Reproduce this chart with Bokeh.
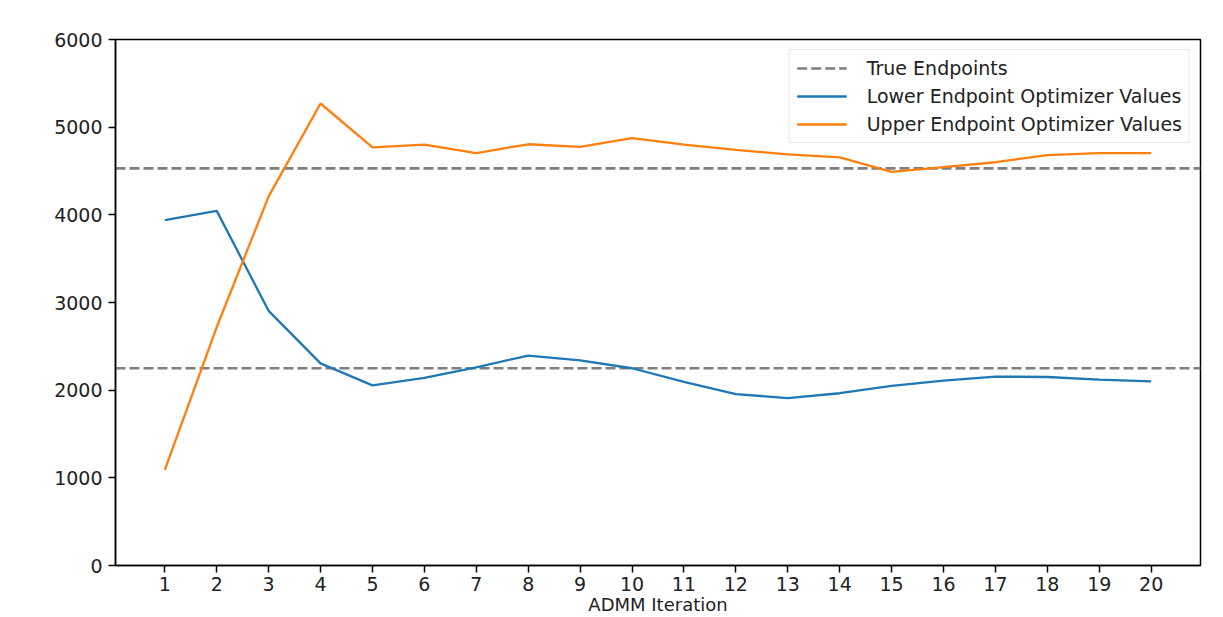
from bokeh.plotting import figure
from bokeh.models import Range1d, FixedTicker, Legend, LegendItem
from bokeh.embed import file_html
from bokeh.resources import INLINE

iterations = list(range(1, 21))
lower_values = [3940, 4045, 2905, 2305, 2055, 2140, 2260, 2395, 2340, 2250,
                2095, 1955, 1910, 1965, 2050, 2110, 2155, 2150, 2120, 2100]
upper_values = [1090, 2720, 4210, 5270, 4770, 4800, 4705, 4805, 4775, 4875,
                4800, 4740, 4690, 4655, 4490, 4545, 4600, 4680, 4705, 4705]
true_endpoints = [2250, 4530]
x_range = (0.05, 20.95)
y_range = (0, 6000)
y_ticks = [0, 1000, 2000, 3000, 4000, 5000, 6000]

FONT = "DejaVu Sans"

p = figure(width=1215, height=617, output_backend="svg",
           toolbar_location=None,
           x_range=Range1d(*x_range), y_range=Range1d(*y_range),
           min_border_left=115, min_border_top=39, min_border_bottom=0,
           min_border_right=15)
p.background_fill_color = "white"
p.border_fill_color = "white"
p.outline_line_color = "black"
p.outline_line_width = 1.5
p.grid.visible = False

for ax in (p.xaxis, p.yaxis):
    ax.major_tick_out = 7
    ax.major_tick_in = 0
    ax.minor_tick_out = 0
    ax.minor_tick_in = 0
    ax.major_tick_line_width = 1.5
    ax.axis_line_width = 1.5
    ax.major_label_text_font = FONT
    ax.major_label_text_font_size = "19px"
    ax.major_label_text_color = "#222222"
p.xaxis.ticker = FixedTicker(ticks=iterations)
p.yaxis.ticker = FixedTicker(ticks=y_ticks)
p.xaxis.major_label_standoff = 4
p.yaxis.major_label_standoff = 6
p.xaxis.axis_label = "ADMM Iteration"
p.xaxis.axis_label_standoff = 0
p.xaxis.axis_label_text_font = FONT
p.xaxis.axis_label_text_font_size = "18px"
p.xaxis.axis_label_text_font_style = "normal"
p.xaxis.axis_label_text_color = "#222222"

xs = [[x_range[0], x_range[1]] for _ in true_endpoints]
ys = [[v, v] for v in true_endpoints]
r_true = p.multi_line(xs=xs, ys=ys, line_color="#7f7f7f", line_width=2.6,
                      line_dash="10 4")
r_low = p.line(iterations, lower_values, line_color="#1f77b4", line_width=2.3)
r_up = p.line(iterations, upper_values, line_color="#ff7f0e", line_width=2.3)

legend = Legend(items=[
    LegendItem(label="True Endpoints", renderers=[r_true]),
    LegendItem(label="Lower Endpoint Optimizer Values", renderers=[r_low]),
    LegendItem(label="Upper Endpoint Optimizer Values", renderers=[r_up]),
], location="top_right")
legend.label_text_font = FONT
legend.label_text_font_size = "19px"
legend.label_text_color = "#222222"
legend.glyph_width = 50
legend.glyph_height = 20
legend.label_height = 20
legend.label_standoff = 20
legend.spacing = 6
legend.padding = 7
legend.margin = 10
legend.border_line_color = "#cccccc"
legend.border_line_width = 1.5
legend.background_fill_alpha = 0.8
p.add_layout(legend)

open("out.html", "w").write(file_html(p, INLINE))
